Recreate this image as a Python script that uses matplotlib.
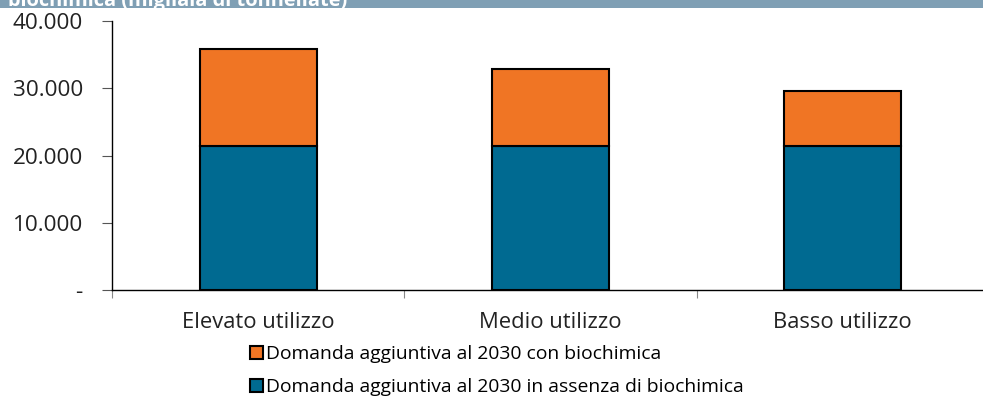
import matplotlib
matplotlib.use("Agg")
import matplotlib.pyplot as plt
from matplotlib.patches import Rectangle, Patch
from matplotlib.ticker import FixedLocator, FuncFormatter

categories = ["Elevato utilizzo", "Medio utilizzo", "Basso utilizzo"]
base_values = [21400, 21400, 21400]
extra_values = [14500, 11400, 8200]
series_names = ["Domanda aggiuntiva al 2030 con biochimica",
                "Domanda aggiuntiva al 2030 in assenza di biochimica"]
title_text = "biochimica (migliaia di tonnellate)"

plt.rcParams['font.family'] = ['Open Sans', 'DejaVu Sans']

W, H = 983, 403
fig = plt.figure(figsize=(W / 100, H / 100), dpi=100)
ax = fig.add_axes([112 / W, (H - 290) / H, 1 - 112 / W, (290 - 21) / H])

blue = "#006a91"
orange = "#f07524"
x = list(range(len(categories)))
ax.bar(x, base_values, width=0.40, color=blue, edgecolor="black", linewidth=1.5, zorder=3)
ax.bar(x, extra_values, bottom=base_values, width=0.40, color=orange, edgecolor="black",
       linewidth=1.5, zorder=3)

ax.set_xlim(-0.5, 2.48)
ax.set_ylim(0, 40000)
ax.set_yticks([0, 10000, 20000, 30000, 40000])
ax.yaxis.set_major_formatter(FuncFormatter(
    lambda v, p: "-" if v == 0 else f"{int(v):,}".replace(",", ".")))
ax.tick_params(axis='y', labelsize=16.2, length=7, width=0.8, color="#555555", pad=14,
               labelcolor="#222222")

ax.set_xticks(x)
ax.set_xticklabels(categories)
ax.tick_params(axis='x', which='major', length=0, labelsize=15.8, pad=16, labelcolor="#222222")
ax.xaxis.set_minor_locator(FixedLocator([-0.5, 0.5, 1.5]))
ax.tick_params(axis='x', which='minor', length=6, width=0.8, color="#888888")

for s in ["top", "right"]:
    ax.spines[s].set_visible(False)
ax.spines["left"].set_linewidth(1.0)
ax.spines["bottom"].set_linewidth(1.0)

handles = [Patch(facecolor=orange, edgecolor="black", linewidth=1.5),
           Patch(facecolor=blue, edgecolor="black", linewidth=1.5)]
fig.legend(handles, series_names, loc="upper left", bbox_to_anchor=(250 / W, 1 - 345 / H),
           frameon=False, fontsize=13.9, handlelength=0.65, handleheight=0.65,
           handletextpad=0.2, labelspacing=0.8, borderaxespad=0, borderpad=0)

fig.patches.append(Rectangle((0, 1 - 8 / H), 1, 8 / H, transform=fig.transFigure,
                             facecolor="#7f9fb4", edgecolor="none", zorder=0))
fig.text(8 / W, 1 - 6 / H, title_text, color="white", fontweight="bold", fontsize=14.4,
         va="baseline", ha="left")

fig.savefig("out.png", dpi=100)
